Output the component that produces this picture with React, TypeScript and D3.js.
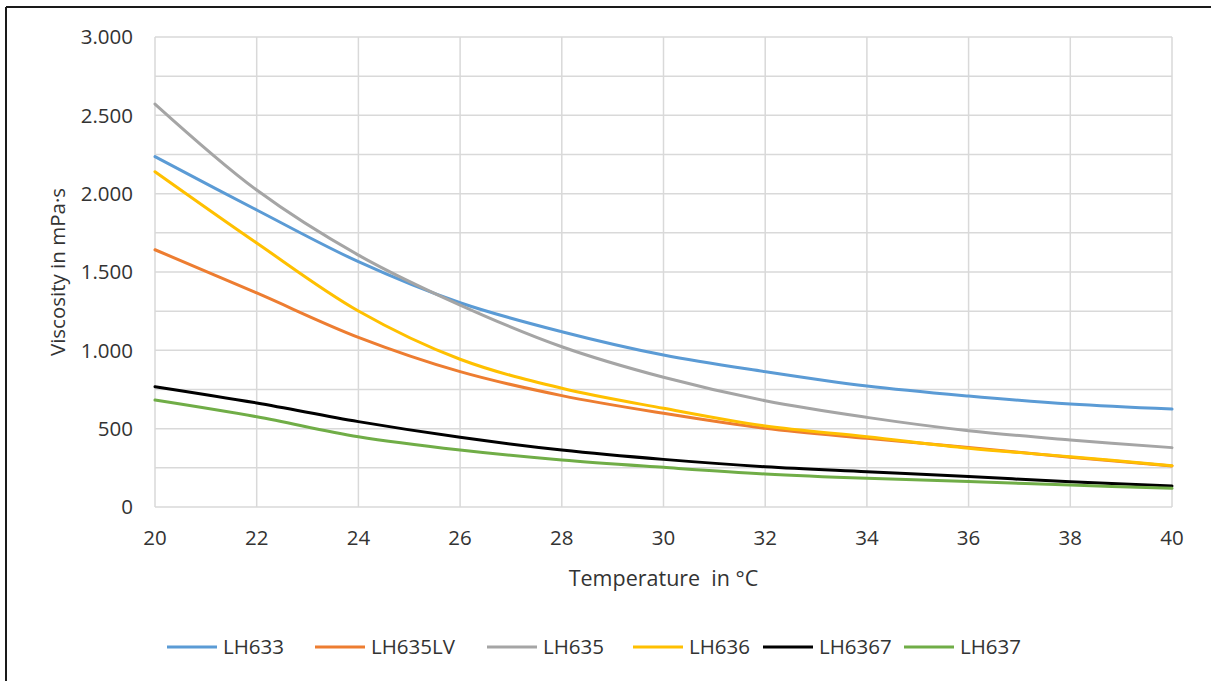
import React from "react";
import * as d3 from "d3";

const temperatures = [20, 22, 24, 26, 28, 30, 32, 34, 36, 38, 40];
const seriesNames = ["LH633", "LH635LV", "LH635", "LH636", "LH6367", "LH637"];
const seriesColors = ["#5b9bd5", "#ed7d31", "#a5a5a5", "#ffc000", "#000000", "#70ad47"];
const LH633 = [2236, 1896, 1566, 1304, 1119, 970, 864, 772, 708, 657, 625];
const LH635LV = [1642, 1366, 1083, 864, 711, 598, 502, 438, 380, 318, 262];
const LH635 = [2572, 2023, 1608, 1289, 1023, 828, 678, 572, 487, 428, 379];
const LH636 = [2140, 1685, 1251, 943, 758, 630, 517, 449, 375, 321, 264];
const LH6367 = [768, 664, 545, 445, 364, 304, 257, 225, 194, 161, 134];
const LH637 = [683, 576, 449, 364, 300, 253, 211, 183, 163, 140, 119];
const seriesValues = [LH633, LH635LV, LH635, LH636, LH6367, LH637];
const yTickLabels = ["0", "500", "1.000", "1.500", "2.000", "2.500", "3.000"];
const yTickValues = [0, 500, 1000, 1500, 2000, 2500, 3000];
const yGridValues = [0, 250, 500, 750, 1000, 1250, 1500, 1750, 2000, 2250, 2500, 2750, 3000];
const xTickValues = [20, 22, 24, 26, 28, 30, 32, 34, 36, 38, 40];

const W = 1211;
const H = 681;
const FONT = "'Open Sans', sans-serif";
const TEXT = "#333333";
const FS = 20.5;
// legend item left edges (layout)
const legendX = [167, 315, 487, 633, 763, 904];

export default function App() {
  const x = d3.scaleLinear().domain([20, 40]).range([155, 1172]);
  const y = d3.scaleLinear().domain([0, 3000]).range([507, 37]);
  const line = d3
    .line<number>()
    .x((_, i) => x(temperatures[i]))
    .y((d) => y(d))
    .curve(d3.curveCatmullRom.alpha(0.5));

  return (
    <svg
      width={W}
      height={H}
      style={{ position: "absolute", left: 0, top: 0, background: "#fff" }}
      fontFamily={FONT}
    >
      <rect x={0} y={0} width={W} height={H} fill="#fff" />
      {/* frame */}
      <line x1={6} y1={7} x2={W} y2={7} stroke="#1a1a1a" strokeWidth={2} />
      <line x1={6} y1={7} x2={6} y2={H} stroke="#1a1a1a" strokeWidth={2} />

      {/* grid */}
      {yGridValues.map((v) => (
        <line key={"hy" + v} x1={x(20)} x2={x(40)} y1={y(v)} y2={y(v)} stroke="#d9d9d9" strokeWidth={1.5} />
      ))}
      {xTickValues.map((v) => (
        <line key={"vx" + v} x1={x(v)} x2={x(v)} y1={y(0)} y2={y(3000)} stroke="#d9d9d9" strokeWidth={1.5} />
      ))}

      {/* y ticks */}
      {yTickValues.map((v, i) => (
        <text key={"yt" + v} x={133} y={y(v)} dy="0.35em" textAnchor="end" fontSize={FS} fill={TEXT}>
          {yTickLabels[i]}
        </text>
      ))}
      {/* x ticks */}
      {xTickValues.map((v) => (
        <text key={"xt" + v} x={x(v)} y={538} dy="0.35em" textAnchor="middle" fontSize={FS} fill={TEXT}>
          {v}
        </text>
      ))}

      {/* series */}
      {seriesValues.map((vals, i) => (
        <path key={seriesNames[i]} d={line(vals) || ""} fill="none" stroke={seriesColors[i]} strokeWidth={3} strokeLinecap="round" />
      ))}

      {/* axis titles */}
      <text x={(x(20) + x(40)) / 2} y={578} dy="0.35em" textAnchor="middle" fontSize={21.5} fill={TEXT} xmlSpace="preserve">
        {"Temperature  in °C"}
      </text>
      <text
        transform={`translate(58,${(y(0) + y(3000)) / 2}) rotate(-90)`}
        dy="0.35em"
        textAnchor="middle"
        fontSize={FS}
        fill={TEXT}
      >
        Viscosity in mPa·s
      </text>

      {/* legend */}
      <g transform="translate(0,647)">
        {seriesNames.map((n, i) => (
          <g key={n} transform={`translate(${legendX[i]},0)`}>
            <line x1={0} x2={50} y1={0} y2={0} stroke={seriesColors[i]} strokeWidth={3} />
            <text x={56} y={0} dy="0.35em" fontSize={FS} fill={TEXT}>
              {n}
            </text>
          </g>
        ))}
      </g>
    </svg>
  );
}
